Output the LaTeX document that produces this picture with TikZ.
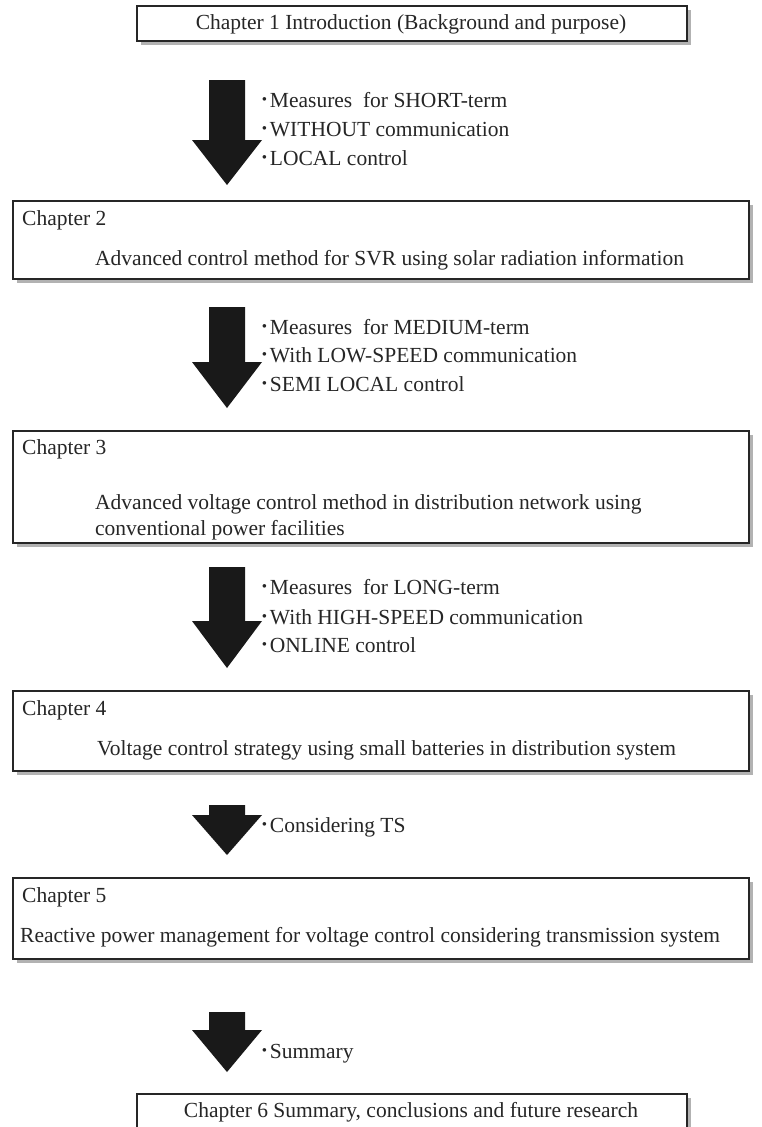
\documentclass[tikz,border=0pt]{standalone}
\usepackage{fontspec}
\setmainfont{Liberation Serif}
\newfontfamily\cjk{Noto Sans CJK JP}
\tikzset{
  chbox/.style={draw=black!85, line width=1.6pt, fill=white, inner sep=0pt, anchor=north west},
  shadowbox/.style={fill=black!30, draw=none},
  txt/.style={font=\fontsize{21.5}{25}\selectfont, inner sep=0pt, anchor=base west, text=black!85},
  arrowfill/.style={fill=black!90},
}
\newcommand{\blkarrow}[4]{%
  \fill[arrowfill] ({#1-18},#2) -- ({#1+18},#2) -- ({#1+18},#3) -- ({#1+35},#3) -- (#1,#4) -- ({#1-35},#3) -- ({#1-18},#3) -- cycle;}
\newcommand{\dotb}{{\cjk ･}}
\begin{document}
\begin{tikzpicture}[x=1pt,y=-1pt]
\useasboundingbox (0,0) rectangle (761,1127);
\clip (0,0) rectangle (761,1127);
\fill[white] (0,0) rectangle (761,1127);

% shadows
\fill[shadowbox] (141,10) rectangle (691,45);
\fill[shadowbox] (17,205) rectangle (753,283);
\fill[shadowbox] (17,435) rectangle (753,547);
\fill[shadowbox] (17,695) rectangle (753,775);
\fill[shadowbox] (17,882) rectangle (753,963);
\fill[shadowbox] (141,1098) rectangle (691,1140);

% boxes
\node[chbox, minimum width=550pt, minimum height=35pt] (b1) at (136,5) {};
\node[chbox, minimum width=736pt, minimum height=78pt] (b2) at (12,200) {};
\node[chbox, minimum width=736pt, minimum height=112pt] (b3) at (12,430) {};
\node[chbox, minimum width=736pt, minimum height=80pt] (b4) at (12,690) {};
\node[chbox, minimum width=736pt, minimum height=81pt] (b5) at (12,877) {};
\node[chbox, minimum width=550pt, minimum height=45pt] (b6) at (136,1093) {};

% box texts
\node[txt, anchor=base] (t1) at (411,29) {Chapter 1 Introduction (Background and purpose)};
\node[txt] (t2a) at (22,225) {Chapter 2};
\node[txt] (t2b) at (95,265) {Advanced control method for SVR using solar radiation information};
\node[txt] (t3a) at (22,454) {Chapter 3};
\node[txt] (t3b) at (95,509) {Advanced voltage control method in distribution network using};
\node[txt] (t3c) at (95,535) {conventional power facilities};
\node[txt] (t4a) at (22,715) {Chapter 4};
\node[txt] (t4b) at (97,755) {Voltage control strategy using small batteries in distribution system};
\node[txt] (t5a) at (22,902) {Chapter 5};
\node[txt] (t5b) at (20,942) {Reactive power management for voltage control considering transmission system};
\node[txt, anchor=base] (t6) at (411,1117) {Chapter 6 Summary, conclusions and future research};

% block arrows
\blkarrow{227}{80}{140}{185}
\blkarrow{227}{307}{362}{408}
\blkarrow{227}{567}{621}{668}
\blkarrow{227}{805}{815}{855}
\blkarrow{227}{1012}{1030}{1072}

% arrow labels
\node[txt] (l1a) at (259,107) {\dotb Measures\ \ for SHORT-term};
\node[txt] (l1b) at (259,136) {\dotb WITHOUT communication};
\node[txt] (l1c) at (259,165) {\dotb LOCAL control};
\node[txt] (l2a) at (259,334) {\dotb Measures\ \ for MEDIUM-term};
\node[txt] (l2b) at (259,362) {\dotb With LOW-SPEED communication};
\node[txt] (l2c) at (259,391) {\dotb SEMI LOCAL control};
\node[txt] (l3a) at (259,594) {\dotb Measures\ \ for LONG-term};
\node[txt] (l3b) at (259,624) {\dotb With HIGH-SPEED communication};
\node[txt] (l3c) at (259,652) {\dotb ONLINE control};
\node[txt] (l4a) at (259,832) {\dotb Considering TS};
\node[txt] (l5a) at (259,1058) {\dotb Summary};
\end{tikzpicture}
\end{document}
